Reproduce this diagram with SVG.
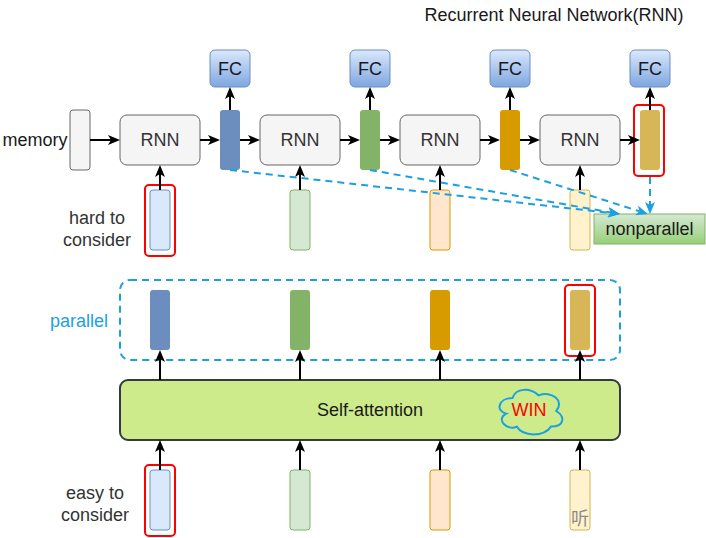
<svg xmlns="http://www.w3.org/2000/svg" width="706" height="538" viewBox="0 0 706 538">
<style>
text{font-family:"Liberation Sans",Arial,sans-serif;font-size:18px;}
.lbl{fill:#333333;}
.mem{fill:#f5f5f5;stroke:#666666;stroke-width:1;}
.rnn{fill:#f5f5f5;stroke:#666666;stroke-width:1;}
.fc{fill:url(#gfc);stroke:#6c8ebf;stroke-width:1;}
.vb{fill:#6c8ebf;}
.vg{fill:#82b366;}
.vo{fill:#d79b00;}
.vy{fill:#d6b656;}
.ib{fill:#dae8fc;stroke:#6c8ebf;}
.ig{fill:#d5e8d4;stroke:#82b366;}
.io{fill:#ffe6cc;stroke:#d79b00;}
.iy{fill:#fff2cc;stroke:#d6b656;}
.hl{fill:none;stroke:#ff0000;stroke-width:2;}
.ar{stroke:#000;stroke-width:2;fill:none;marker-end:url(#ak);}
.da{stroke:#1ba1e2;stroke-width:2;fill:none;stroke-dasharray:7 5;marker-end:url(#ab);}
</style>
<defs>
<linearGradient id="gfc" x1="0" y1="0" x2="0" y2="1"><stop offset="0" stop-color="#dae8fc"/><stop offset="1" stop-color="#7ea6e0"/></linearGradient>
<linearGradient id="gnp" x1="0" y1="0" x2="0" y2="1"><stop offset="0" stop-color="#d5e8d4"/><stop offset="1" stop-color="#97d077"/></linearGradient>
<marker id="ak" markerUnits="userSpaceOnUse" markerWidth="12" markerHeight="10" refX="3" refY="5" orient="auto"><path d="M0,0 L12,5 L0,10 L3,5 Z" fill="#000"/></marker>
<marker id="ab" markerUnits="userSpaceOnUse" markerWidth="12" markerHeight="10" refX="3" refY="5" orient="auto"><path d="M0,0 L12,5 L0,10 L3,5 Z" fill="#1ba1e2"/></marker>
</defs>
<rect width="706" height="538" fill="#ffffff"/>

<text x="554" y="21" text-anchor="middle" fill="#1a1a1a">Recurrent Neural Network(RNN)</text>

<g id="memory-label"><text x="35" y="146" text-anchor="middle" fill="#1a1a1a">memory</text></g>
<g id="memory"><rect class="mem" x="70" y="110" width="20" height="60" rx="3"/></g>

<g id="rnn1"><rect class="rnn" x="120" y="115" width="80" height="50" rx="7"/><text class="lbl" x="160" y="146" text-anchor="middle">RNN</text></g>
<g id="rnn2"><rect class="rnn" x="260" y="115" width="80" height="50" rx="7"/><text class="lbl" x="300" y="146" text-anchor="middle">RNN</text></g>
<g id="rnn3"><rect class="rnn" x="400" y="115" width="80" height="50" rx="7"/><text class="lbl" x="440" y="146" text-anchor="middle">RNN</text></g>
<g id="rnn4"><rect class="rnn" x="540" y="115" width="80" height="50" rx="7"/><text class="lbl" x="580" y="146" text-anchor="middle">RNN</text></g>

<g id="fc1"><rect class="fc" x="210" y="50" width="40" height="37" rx="5"/><text x="230" y="75" text-anchor="middle" fill="#1a1a1a">FC</text></g>
<g id="fc2"><rect class="fc" x="350" y="50" width="40" height="37" rx="5"/><text x="370" y="75" text-anchor="middle" fill="#1a1a1a">FC</text></g>
<g id="fc3"><rect class="fc" x="490" y="50" width="40" height="37" rx="5"/><text x="510" y="75" text-anchor="middle" fill="#1a1a1a">FC</text></g>
<g id="fc4"><rect class="fc" x="630" y="50" width="40" height="37" rx="5"/><text x="650" y="75" text-anchor="middle" fill="#1a1a1a">FC</text></g>

<g id="h1"><rect class="vb" x="220" y="110" width="20" height="60" rx="3"/></g>
<g id="h2"><rect class="vg" x="360" y="110" width="20" height="60" rx="3"/></g>
<g id="h3"><rect class="vo" x="500" y="110" width="20" height="60" rx="3"/></g>
<g id="h4"><rect class="vy" x="640" y="110" width="20" height="60" rx="3"/><rect class="hl" x="634" y="105" width="30" height="71" rx="4"/></g>

<g id="hard-label"><text class="lbl" x="97" y="224" text-anchor="middle">hard to</text><text class="lbl" x="97" y="246" text-anchor="middle">consider</text></g>

<g id="x1"><rect class="ib" x="150" y="190" width="20" height="60" rx="3"/><rect class="hl" x="145" y="185" width="30" height="71" rx="4"/></g>
<g id="x2"><rect class="ig" x="290" y="190" width="20" height="60" rx="3"/></g>
<g id="x3"><rect class="io" x="430" y="190" width="20" height="60" rx="3"/></g>
<g id="x4"><rect class="iy" x="570" y="190" width="20" height="60" rx="3"/></g>

<g id="nonparallel"><rect x="594" y="214" width="111" height="30" fill="url(#gnp)" stroke="#82b366"/><text x="649.5" y="235" text-anchor="middle" fill="#1a1a1a">nonparallel</text></g>

<g id="parallel-group"><rect x="120" y="280" width="500" height="80" rx="10" fill="none" stroke="#1ba1e2" stroke-width="2" stroke-dasharray="7 5"/><text x="79" y="327" text-anchor="middle" fill="#1ba1e2">parallel</text></g>

<g id="p1"><rect class="vb" x="150" y="290" width="20" height="60" rx="3"/></g>
<g id="p2"><rect class="vg" x="290" y="290" width="20" height="60" rx="3"/></g>
<g id="p3"><rect class="vo" x="430" y="290" width="20" height="60" rx="3"/></g>
<g id="p4"><rect class="vy" x="570" y="290" width="20" height="60" rx="3"/><rect class="hl" x="565" y="285" width="30" height="71" rx="4"/></g>

<g id="self-attention"><rect x="120" y="380" width="500" height="60" rx="8" fill="#cdeb8b" stroke="#36393d" stroke-width="2"/><text x="370" y="416" text-anchor="middle" fill="#1a1a1a">Self-attention</text></g>

<g id="win"><path d="M512.5,398 C498.5,398 495,411 506.2,413.6 C495,419.3 507.6,431.3 516.7,426.6 C523,437 544,437 551,426.6 C565,426.6 565,416.2 556.25,411 C565,400.6 551,390.2 538.75,395.4 C530,387.6 516,387.6 512.5,398 Z" fill="none" stroke="#1ba1e2" stroke-width="2"/><text x="529" y="416" text-anchor="middle" fill="#ff0000">WIN</text></g>

<g id="easy-label"><text class="lbl" x="95" y="499" text-anchor="middle">easy to</text><text class="lbl" x="95" y="521" text-anchor="middle">consider</text></g>

<g id="e1"><rect class="ib" x="150" y="470" width="20" height="60" rx="3"/><rect class="hl" x="145" y="465" width="30" height="71" rx="4"/></g>
<g id="e2"><rect class="ig" x="290" y="470" width="20" height="60" rx="3"/></g>
<g id="e3"><rect class="io" x="430" y="470" width="20" height="60" rx="3"/></g>
<g id="e4"><rect class="iy" x="570" y="470" width="20" height="60" rx="3"/><text x="580" y="525" text-anchor="middle" fill="#8c8c8c" style="font-family:'Noto Sans CJK SC','Noto Sans CJK JP',sans-serif;font-size:18px">听</text></g>

<g id="connectors">
<line class="ar" x1="90" y1="140" x2="111" y2="140"/>
<line class="ar" x1="200" y1="140" x2="211" y2="140"/>
<line class="ar" x1="240" y1="140" x2="251" y2="140"/>
<line class="ar" x1="340" y1="140" x2="351" y2="140"/>
<line class="ar" x1="380" y1="140" x2="391" y2="140"/>
<line class="ar" x1="480" y1="140" x2="491" y2="140"/>
<line class="ar" x1="520" y1="140" x2="531" y2="140"/>
<line class="ar" x1="620" y1="140" x2="631" y2="140"/>
<line class="ar" x1="230" y1="110" x2="230" y2="96"/>
<line class="ar" x1="370" y1="110" x2="370" y2="96"/>
<line class="ar" x1="510" y1="110" x2="510" y2="96"/>
<line class="ar" x1="650" y1="110" x2="650" y2="96"/>
<line class="ar" x1="160" y1="190" x2="160" y2="174"/>
<line class="ar" x1="300" y1="190" x2="300" y2="174"/>
<line class="ar" x1="440" y1="190" x2="440" y2="174"/>
<line class="ar" x1="580" y1="190" x2="580" y2="174"/>
<line class="ar" x1="160" y1="380" x2="160" y2="359"/>
<line class="ar" x1="300" y1="380" x2="300" y2="359"/>
<line class="ar" x1="440" y1="380" x2="440" y2="359"/>
<line class="ar" x1="580" y1="380" x2="580" y2="359"/>
<line class="ar" x1="160" y1="470" x2="160" y2="449"/>
<line class="ar" x1="300" y1="470" x2="300" y2="449"/>
<line class="ar" x1="440" y1="470" x2="440" y2="449"/>
<line class="ar" x1="580" y1="470" x2="580" y2="449"/>
<line class="da" x1="230" y1="170" x2="611.05" y2="213.0"/>
<line class="da" x1="370" y1="170" x2="611.13" y2="212.5"/>
<line class="da" x1="510" y1="170" x2="639.4" y2="211.3"/>
<line class="da" x1="650" y1="177" x2="650" y2="205"/>
</g>
</svg>
